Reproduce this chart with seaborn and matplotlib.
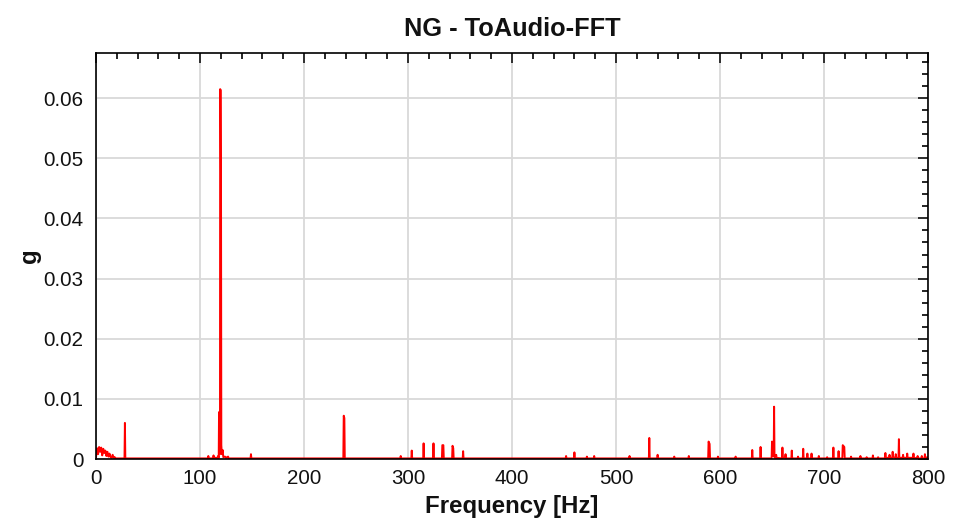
import matplotlib
matplotlib.use("Agg")
import matplotlib.pyplot as plt
import seaborn as sns
import pandas as pd
from matplotlib.ticker import MultipleLocator, FuncFormatter

# Spectrum: frequency (Hz) and amplitude (g)
freq = [0, 1, 2, 3, 4, 5, 6, 7, 8, 9, 10, 11, 12, 13, 14, 15, 16, 17, 18, 19,
        27.4, 27.8, 28.2,
        107.5, 108, 108.5, 112.5, 113, 113.5, 117, 117.5, 118, 118.3, 118.7, 119.2, 119.4,
        119.9, 120.2, 120.5, 121, 121.8, 122.4, 124, 125, 127, 127.5,
        148.6, 149, 149.4,
        237.8, 238.2, 238.8, 239.2,
        292.6, 293, 293.4,
        303.2, 303.6, 304,
        314.6, 315, 315.4,
        324.1, 324.5, 324.9,
        332.6, 333, 334, 334.4,
        342.4, 342.8, 343.5, 343.9,
        352.6, 353, 353.4,
        451.6, 452, 452.4,
        459.6, 460, 460.4,
        471.6, 472, 472.4,
        478.6, 479, 479.4,
        512.6, 513, 513.4,
        531.6, 532, 532.4,
        539.6, 540, 540.4,
        555.6, 556, 556.4,
        569.6, 570, 570.4,
        588.6, 589, 590, 590.4,
        597.6, 598, 598.4,
        614.6, 615, 615.4,
        630.6, 631, 631.4,
        638.6, 639, 639.4,
        649.6, 650, 650.6, 651.6, 652, 652.4, 653.6, 654, 654.4,
        659.6, 660, 660.4, 662.6, 663, 663.4,
        668.6, 669, 669.4,
        674.6, 675, 675.4,
        679.6, 680, 680.4,
        683.6, 684, 684.4,
        687.6, 688, 688.4,
        694.6, 695, 695.4,
        702.6, 703, 703.4,
        708.6, 709, 709.4,
        713.6, 714, 714.4,
        717.6, 718, 719.5, 719.9,
        725.6, 726, 726.4,
        734.6, 735, 735.4,
        740.6, 741, 741.4,
        746.6, 747, 747.4,
        751.6, 752, 752.4,
        758.6, 759, 759.4,
        762.6, 763, 763.4,
        765.6, 766, 766.4,
        768.6, 769, 769.4,
        771.6, 772, 772.4,
        775.6, 776, 776.4,
        779.6, 780, 780.4,
        785.6, 786, 786.4,
        789.6, 790, 790.4,
        793.6, 794, 794.4,
        796.6, 797, 797.4,
        800]
amp = [0.0003, 0.0018, 0.0008, 0.002, 0.0012, 0.0019, 0.0006, 0.0017, 0.001, 0.0014,
       0.0005, 0.0012, 0.0004, 0.0009, 0.0003, 0.0002, 0.0007, 0.0002, 0.0003, 0.0001,
       0.0001, 0.006, 0.0001,
       0.0001, 0.0005, 0.0001, 0.0001, 0.0006, 0.0002, 0.0002, 0.0005, 0.0002, 0.0078,
       0.0008, 0.0008, 0.0615,
       0.0613, 0.046, 0.0023, 0.0008, 0.0015, 0.0003, 0.0004, 0.0002, 0.0004, 0.0001,
       0.0001, 0.0008, 0.0001,
       0.0001, 0.0072, 0.0068, 0.0001,
       0.0001, 0.0005, 0.0001,
       0.0001, 0.0014, 0.0001,
       0.0001, 0.0026, 0.0001,
       0.0001, 0.0026, 0.0001,
       0.0001, 0.0023, 0.0023, 0.0001,
       0.0001, 0.0022, 0.0018, 0.0001,
       0.0001, 0.0013, 0.0001,
       0.0001, 0.0005, 0.0001,
       0.0001, 0.0011, 0.0001,
       0.0001, 0.0004, 0.0001,
       0.0001, 0.0005, 0.0001,
       0.0001, 0.0005, 0.0001,
       0.0001, 0.0035, 0.0001,
       0.0001, 0.0007, 0.0001,
       0.0001, 0.0004, 0.0001,
       0.0001, 0.0005, 0.0001,
       0.0001, 0.0029, 0.0025, 0.0001,
       0.0001, 0.0004, 0.0001,
       0.0001, 0.0004, 0.0001,
       0.0001, 0.0015, 0.0001,
       0.0001, 0.002, 0.0001,
       0.0001, 0.0029, 0.0005, 0.0005, 0.0087, 0.0002, 0.0002, 0.0007, 0.0002,
       0.0001, 0.0019, 0.0002, 0.0002, 0.0008, 0.0001,
       0.0001, 0.0014, 0.0001,
       0.0001, 0.0004, 0.0001,
       0.0001, 0.0017, 0.0001,
       0.0001, 0.0009, 0.0001,
       0.0001, 0.0009, 0.0001,
       0.0001, 0.0005, 0.0001,
       0.0001, 0.0003, 0.0001,
       0.0001, 0.0019, 0.0001,
       0.0001, 0.0013, 0.0001,
       0.0001, 0.0023, 0.002, 0.0001,
       0.0001, 0.0004, 0.0001,
       0.0001, 0.0005, 0.0001,
       0.0001, 0.0003, 0.0001,
       0.0001, 0.0006, 0.0001,
       0.0001, 0.0003, 0.0001,
       0.0001, 0.001, 0.0002,
       0.0002, 0.0007, 0.0002,
       0.0002, 0.0012, 0.0003,
       0.0002, 0.0008, 0.0002,
       0.0002, 0.0033, 0.0002,
       0.0002, 0.0007, 0.0002,
       0.0002, 0.0009, 0.0002,
       0.0002, 0.0009, 0.0002,
       0.0001, 0.0005, 0.0001,
       0.0001, 0.0005, 0.0001,
       0.0001, 0.0008, 0.0002,
       0.0003]
assert len(freq) == len(amp)

x_ticks = [0, 100, 200, 300, 400, 500, 600, 700, 800]
y_ticks = [0, 0.01, 0.02, 0.03, 0.04, 0.05, 0.06]
title = "NG - ToAudio-FFT"
x_label = "Frequency [Hz]"
y_label = "g"

df = pd.DataFrame({"freq": freq, "amp": amp})

sns.set_style("white")
plt.rcParams["font.family"] = ["Liberation Sans", "DejaVu Sans"]

fig = plt.figure(figsize=(9.59, 5.25), dpi=100)
ax = fig.add_axes([0.1001, 0.1257, 0.8676, 0.7733])

sns.lineplot(data=df, x="freq", y="amp", color="#ff0000", linewidth=1.4,
             estimator=None, sort=False, ax=ax)

ax.set_xlim(0, 800)
ax.set_ylim(0, 0.0675)
ax.set_xticks(x_ticks)
ax.set_yticks(y_ticks)
ax.xaxis.set_minor_locator(MultipleLocator(20))
ax.yaxis.set_minor_locator(MultipleLocator(0.002))
ax.yaxis.set_major_formatter(FuncFormatter(lambda v, p: "0" if abs(v) < 1e-12 else f"{v:.2f}"))
ax.tick_params(which="both", direction="in", top=True, right=True, colors="black",
               labelsize=14.8, width=1.2)
ax.tick_params(which="major", length=7)
ax.tick_params(axis="x", which="major", pad=7)
ax.tick_params(axis="y", which="major", pad=9)
ax.tick_params(which="minor", length=4)
ax.tick_params(colors="#111111")
ax.grid(True, which="major", color="#d9d9d9", linewidth=1.3)
ax.set_axisbelow(True)
for s in ax.spines.values():
    s.set_color("black")
    s.set_linewidth(1.2)

ax.set_title(title, fontsize=18.3, fontweight="bold", pad=12, color="#111111")
ax.set_xlabel(x_label, fontsize=17.3, fontweight="bold", labelpad=5, color="#111111")
ax.set_ylabel(y_label, fontsize=17.3, fontweight="bold", labelpad=2, color="#111111")

fig.savefig("out.png", dpi=100)
